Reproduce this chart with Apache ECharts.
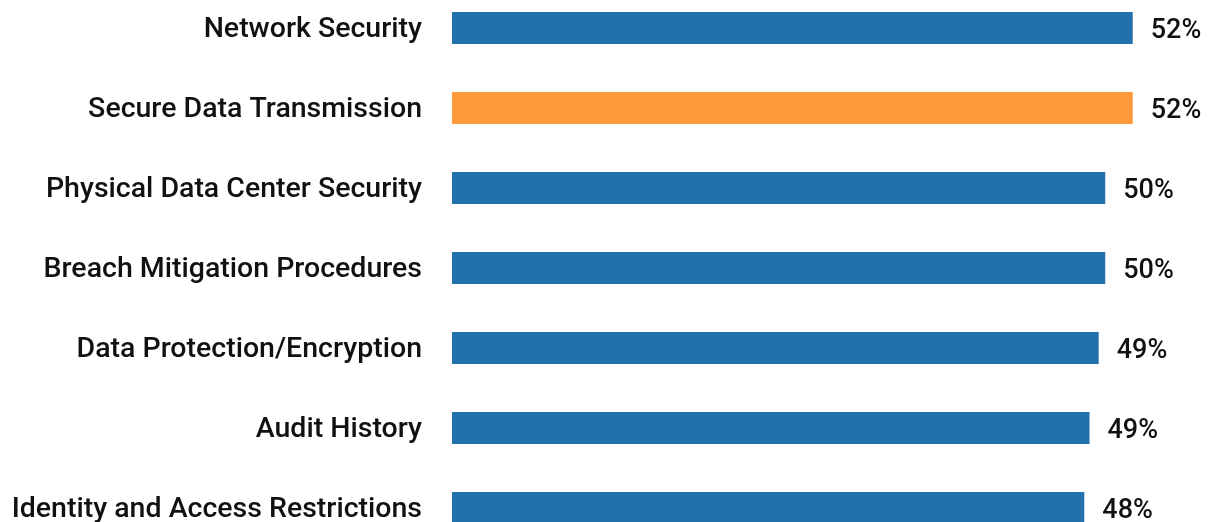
<!DOCTYPE html>
<html>
<head>
<meta charset="utf-8">
<script src="https://cdn.jsdelivr.net/npm/echarts@6/dist/echarts.min.js"></script>
<style>
html,body{margin:0;padding:0;background:#fff;}
#c{width:1210px;height:522px;}
</style>
</head>
<body>
<div id="c"></div>
<script>
const categories = [
  "Network Security",
  "Secure Data Transmission",
  "Physical Data Center Security",
  "Breach Mitigation Procedures",
  "Data Protection/Encryption",
  "Audit History",
  "Identity and Access Restrictions"
];
const values = [52.0, 52.0, 49.9, 49.9, 49.4, 48.7, 48.3];
const highlightIndex = 1;
const blue = "#2271ad";
const orange = "#fd9a3b";

const chart = echarts.init(document.getElementById('c'), null, {renderer: 'canvas'});
chart.setOption({
  animation: false,
  backgroundColor: '#ffffff',
  grid: {left: 452, top: 28, width: 720, height: 480, containLabel: false, outerBoundsMode: 'none'},
  xAxis: {
    type: 'value', min: 0, max: 55, show: false
  },
  yAxis: {
    type: 'category', data: categories, inverse: true, boundaryGap: false,
    axisLine: {show: false}, axisTick: {show: false}, splitLine: {show: false},
    axisLabel: {
      margin: 30,
      formatter: v => '{a|' + v + '}',
      rich: {
        a: {color: '#111', fontFamily: 'Roboto', fontSize: 28.5, fontWeight: 500, padding: [4, 0, 0, 0]}
      }
    }
  },
  series: [{
    type: 'bar',
    data: values.map((v, i) => ({value: v, itemStyle: {color: i === highlightIndex ? orange : blue}})),
    barWidth: 32,
    label: {
      show: true, position: 'right', distance: 18, offset: [0, 3],
      fontFamily: 'Roboto', fontSize: 27, fontWeight: 500, color: '#111',
      formatter: p => Math.round(p.value) + '%'
    }
  }]
});
</script>
</body>
</html>
